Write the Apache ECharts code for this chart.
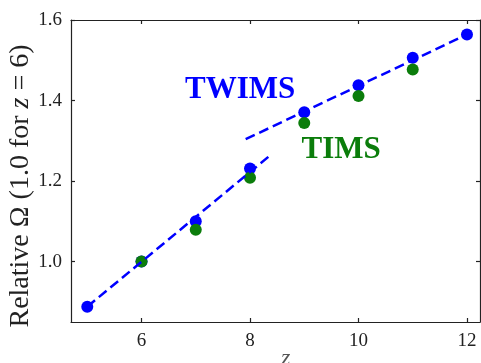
<!DOCTYPE html>
<html>
<head>
<meta charset="utf-8">
<script src="https://cdn.jsdelivr.net/npm/echarts@6/dist/echarts.min.js"></script>
<style>
  html, body { margin: 0; padding: 0; background: #fff; }
  #main { width: 481px; height: 363px; }
</style>
</head>
<body>
<div id="main"></div>
<script>
// charge states z
var zValues = [5, 6, 7, 8, 9, 10, 11, 12]
// relative cross sections
var twimsValues = [0.888, 1.0, 1.10, 1.231, 1.371, 1.438, 1.506, 1.564]
var timsValues = [null, 1.0, 1.079, 1.208, 1.344, 1.411, 1.477, null]
// dashed fit segments
var fitLow = [[5, 0.888], [8.4, 1.267]]
var fitHigh = [[7.92, 1.304], [12, 1.564]]
var xTicks = [6, 8, 10, 12]
var yTicks = [1.0, 1.2, 1.4, 1.6]
// annotation labels [x, y, text]
var notes = [[7.82, 1.427, 'TWIMS'], [9.68, 1.278, 'TIMS']]

var serif = '"Liberation Serif", "Times New Roman", serif'
var axisColor = '#222'

function pairs(vals) {
  var out = []
  for (var i = 0; i < zValues.length; i++) {
    if (vals[i] != null) out.push([zValues[i], vals[i]])
  }
  return out
}

var chart = echarts.init(document.getElementById('main'))

var lineStyle = { color: axisColor, width: 1.2 }
var tickBase = { show: true, inside: true, length: 4, lineStyle: lineStyle }

chart.setOption({
  animation: false,
  grid: { left: 71, top: 20, right: 1, bottom: 41, containLabel: false, outerBoundsMode: 'none' },
  xAxis: [{
    type: 'value', min: 4.7, max: 12.24, position: 'bottom',
    axisLine: { lineStyle: lineStyle },
    axisTick: Object.assign({ customValues: xTicks }, tickBase),
    axisLabel: { customValues: xTicks, margin: 10, fontFamily: serif, fontSize: 19, color: axisColor },
    splitLine: { show: false }
  }, {
    type: 'value', min: 4.7, max: 12.24, position: 'top',
    axisLine: { lineStyle: lineStyle },
    axisTick: Object.assign({ customValues: xTicks }, tickBase),
    axisLabel: { show: false },
    splitLine: { show: false }
  }],
  yAxis: [{
    type: 'value', min: 0.85, max: 1.6, position: 'left',
    axisLine: { lineStyle: lineStyle },
    axisTick: Object.assign({ customValues: yTicks }, tickBase),
    axisLabel: {
      customValues: yTicks, margin: 9, fontFamily: serif, fontSize: 19, color: axisColor,
      formatter: function (v) { return v.toFixed(1) }
    },
    splitLine: { show: false }
  }, {
    type: 'value', min: 0.85, max: 1.6, position: 'right',
    axisLine: { lineStyle: lineStyle },
    axisTick: Object.assign({ customValues: yTicks }, tickBase),
    axisLabel: { show: false },
    splitLine: { show: false }
  }],
  graphic: [{
    type: 'text', x: 21, y: 186, rotation: Math.PI / 2,
    style: {
      text: 'Relative Ω (1.0 for {i|z} = 6)',
      font: '28px ' + serif, fill: axisColor,
      align: 'center', verticalAlign: 'middle',
      rich: { i: { fontFamily: serif, fontSize: 28, fontStyle: 'italic', fill: axisColor } }
    }
  }, {
    type: 'text', left: 281, top: 347,
    style: { text: 'z', font: 'italic 24px ' + serif, fill: '#555' }
  }],
  series: [{
    type: 'scatter', data: pairs(twimsValues), symbolSize: 12,
    itemStyle: { color: '#0000ff', opacity: 1 }, z: 2
  }, {
    type: 'scatter', data: pairs(timsValues), symbolSize: 12,
    itemStyle: { color: '#0b7d0b', opacity: 1 }, z: 3
  }, {
    type: 'line', data: fitLow, showSymbol: false, symbol: 'none',
    lineStyle: { color: '#0000ff', width: 2.5, type: [10, 5] }, z: 4
  }, {
    type: 'line', data: fitHigh, showSymbol: false, symbol: 'none',
    lineStyle: { color: '#0000ff', width: 2.5, type: [10, 5] }, z: 4
  }, {
    type: 'scatter', symbolSize: 0, z: 5, silent: true,
    itemStyle: { opacity: 1 },
    data: notes.map(function (n, i) {
      return {
        value: [n[0], n[1]],
        label: {
          show: true, position: 'inside', formatter: n[2], opacity: 1,
          fontFamily: serif, fontWeight: 'bold', fontSize: 31,
          color: i === 0 ? '#0000ff' : '#0b7d0b'
        }
      }
    })
  }]
})
</script>
</body>
</html>
